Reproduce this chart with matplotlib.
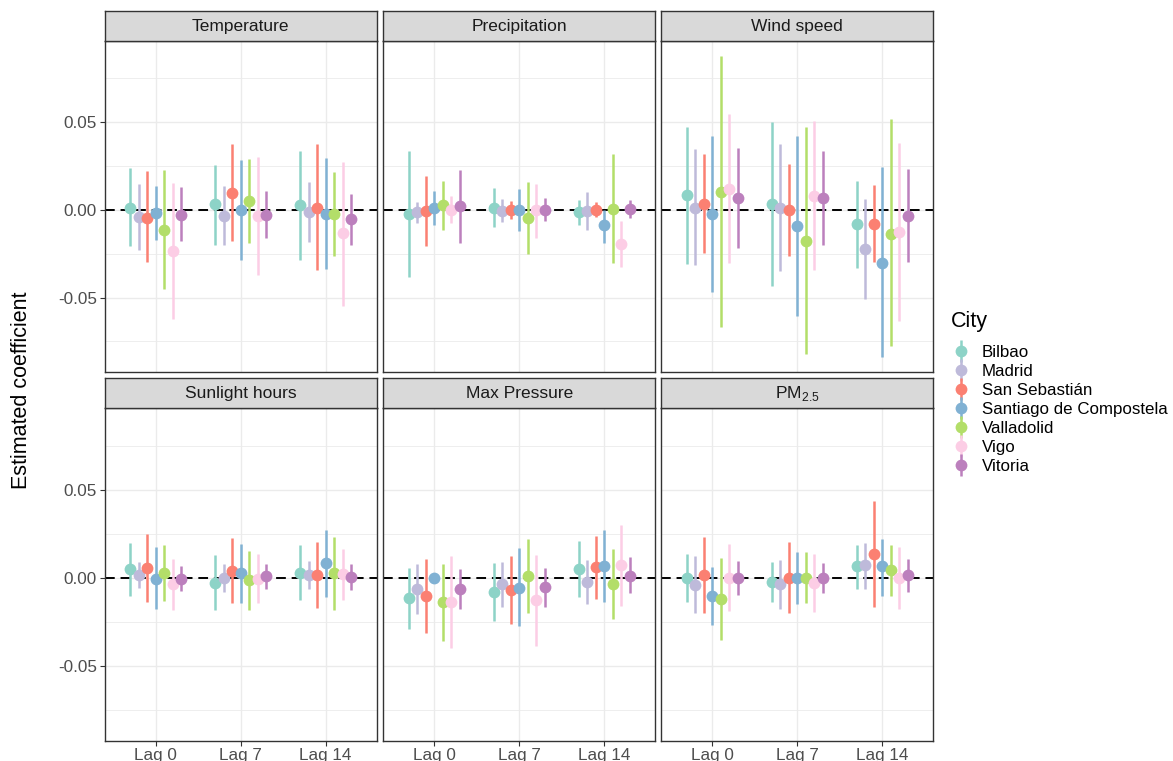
import numpy as np
import matplotlib
matplotlib.use("Agg")
import matplotlib.pyplot as plt
from matplotlib.lines import Line2D
from matplotlib.legend_handler import HandlerTuple

plt.rcParams["font.family"] = ["Liberation Sans", "DejaVu Sans"]
plt.rcParams["mathtext.fontset"] = "custom"
plt.rcParams["mathtext.rm"] = "Liberation Sans"
plt.rcParams["axes.unicode_minus"] = False

# categories
lags = ["Lag 0", "Lag 7", "Lag 14"]
cities = ["Bilbao", "Madrid", "San Sebastián", "Santiago de Compostela",
          "Valladolid", "Vigo", "Vitoria"]
city_colors = ["#8DD3C7", "#BEBADA", "#FB8072", "#80B1D3",
               "#B3DE69", "#FCCDE5", "#BC80BD"]
variables = ["Temperature", "Precipitation", "Wind speed",
             "Sunlight hours", "Max Pressure", "PM$_{2.5}$"]

# rows = cities, columns = lags (0, 7, 14)
temp_est = [[0.0013, 0.0032, 0.0025], [-0.0038, -0.0034, -0.0013], [-0.0044, 0.0098, 0.0013],
            [-0.0017, 0.0000, -0.0021], [-0.0114, 0.0051, -0.0021], [-0.0235, -0.0034, -0.0133],
            [-0.0027, -0.0027, -0.0053]]
temp_lo = [[-0.0208, -0.0199, -0.0288], [-0.0231, -0.0203, -0.0182], [-0.0297, -0.0178, -0.0345],
           [-0.0170, -0.0284, -0.0339], [-0.0451, -0.0189, -0.0265], [-0.0621, -0.0373, -0.0549],
           [-0.0180, -0.0161, -0.0199]]
temp_hi = [[0.0237, 0.0254, 0.0333], [0.0148, 0.0136, 0.0157], [0.0222, 0.0373, 0.0373],
           [0.0136, 0.0286, 0.0295], [0.0225, 0.0290, 0.0216], [0.0152, 0.0303, 0.0273],
           [0.0129, 0.0110, 0.0093]]

prec_est = [[-0.0025, 0.0011, -0.0011], [-0.0013, -0.0006, -0.0004], [-0.0009, 0.0000, 0.0000],
            [0.0009, 0.0000, -0.0089], [0.0027, -0.0047, 0.0006], [0.0000, 0.0000, -0.0195],
            [0.0023, 0.0000, 0.0006]]
prec_lo = [[-0.0383, -0.0100, -0.0089], [-0.0076, -0.0068, -0.0114], [-0.0208, -0.0051, -0.0038],
           [-0.0089, -0.0123, -0.0188], [-0.0114, -0.0252, -0.0303], [-0.0076, -0.0159, -0.0328],
           [-0.0188, -0.0066, -0.0044]]
prec_hi = [[0.0333, 0.0125, 0.0059], [0.0044, 0.0061, 0.0104], [0.0191, 0.0053, 0.0042],
           [0.0108, 0.0121, 0.0000], [0.0163, 0.0157, 0.0316], [0.0078, 0.0148, -0.0063],
           [0.0225, 0.0066, 0.0055]]

wind_est = [[0.0083, 0.0036, -0.0083], [0.0011, 0.0013, -0.0223], [0.0032, 0.0000, -0.0080],
            [-0.0023, -0.0091, -0.0303], [0.0104, -0.0178, -0.0136], [0.0117, 0.0078, -0.0125],
            [0.0066, 0.0066, -0.0034]]
wind_lo = [[-0.0309, -0.0436, -0.0331], [-0.0314, -0.0348, -0.0511], [-0.0246, -0.0265, -0.0299],
           [-0.0470, -0.0606, -0.0837], [-0.0669, -0.0824, -0.0777], [-0.0305, -0.0341, -0.0634],
           [-0.0218, -0.0199, -0.0297]]
wind_hi = [[0.0472, 0.0502, 0.0167], [0.0345, 0.0375, 0.0064], [0.0316, 0.0263, 0.0142],
           [0.0419, 0.0422, 0.0242], [0.0877, 0.0470, 0.0519], [0.0545, 0.0506, 0.0384],
           [0.0350, 0.0337, 0.0231]]

sun_est = [[0.0049, -0.0027, 0.0030], [0.0019, 0.0000, 0.0015], [0.0055, 0.0038, 0.0019],
           [-0.0004, 0.0027, 0.0083], [0.0027, -0.0013, 0.0027], [-0.0036, -0.0004, 0.0023],
           [-0.0006, 0.0011, 0.0004]]
sun_lo = [[-0.0102, -0.0184, -0.0127], [-0.0057, -0.0080, -0.0064], [-0.0138, -0.0144, -0.0169],
          [-0.0174, -0.0142, -0.0106], [-0.0133, -0.0180, -0.0184], [-0.0180, -0.0142, -0.0125],
          [-0.0076, -0.0063, -0.0070]]
sun_hi = [[0.0201, 0.0133, 0.0188], [0.0089, 0.0080, 0.0095], [0.0248, 0.0225, 0.0205],
          [0.0176, 0.0195, 0.0273], [0.0188, 0.0155, 0.0233], [0.0110, 0.0138, 0.0165],
          [0.0066, 0.0081, 0.0081]]

pres_est = [[-0.0116, -0.0078, 0.0049], [-0.0063, -0.0032, -0.0025], [-0.0102, -0.0070, 0.0063],
            [0.0000, -0.0055, 0.0068], [-0.0138, 0.0011, -0.0034], [-0.0134, -0.0125, 0.0074],
            [-0.0064, -0.0053, 0.0013]]
pres_lo = [[-0.0288, -0.0241, -0.0108], [-0.0203, -0.0165, -0.0148], [-0.0313, -0.0260, -0.0121],
           [-0.0015, -0.0275, -0.0136], [-0.0360, -0.0197, -0.0235], [-0.0396, -0.0383, -0.0159],
           [-0.0178, -0.0165, -0.0087]]
pres_hi = [[0.0057, 0.0087, 0.0208], [0.0081, 0.0091, 0.0100], [0.0108, 0.0125, 0.0237],
           [0.0015, 0.0172, 0.0271], [0.0080, 0.0222, 0.0167], [0.0125, 0.0131, 0.0301],
           [0.0051, 0.0057, 0.0117]]

pm_est = [[0.0000, -0.0025, 0.0068], [-0.0038, -0.0036, 0.0072], [0.0017, 0.0000, 0.0136],
          [-0.0104, 0.0000, 0.0068], [-0.0121, 0.0000, 0.0044], [0.0000, -0.0028, 0.0000],
          [0.0000, 0.0000, 0.0015]]
pm_lo = [[-0.0138, -0.0138, -0.0061], [-0.0197, -0.0178, -0.0061], [-0.0197, -0.0197, -0.0167],
         [-0.0269, -0.0146, -0.0100], [-0.0350, -0.0142, -0.0100], [-0.0189, -0.0193, -0.0176],
         [-0.0098, -0.0083, -0.0080]]
pm_hi = [[0.0134, 0.0089, 0.0189], [0.0123, 0.0104, 0.0199], [0.0231, 0.0203, 0.0439],
         [0.0061, 0.0148, 0.0220], [0.0112, 0.0148, 0.0186], [0.0191, 0.0138, 0.0178],
         [0.0095, 0.0083, 0.0106]]

panels = [(temp_est, temp_lo, temp_hi), (prec_est, prec_lo, prec_hi), (wind_est, wind_lo, wind_hi),
          (sun_est, sun_lo, sun_hi), (pres_est, pres_lo, pres_hi), (pm_est, pm_lo, pm_hi)]

W, H = 1173, 761
fig = plt.figure(figsize=(W / 100, H / 100), dpi=100)


def frac(x0, y0, x1, y1):
    # pixel box (top-left origin) -> figure fraction rect
    return [x0 / W, 1 - y1 / H, (x1 - x0) / W, (y1 - y0) / H]


col_x = [104.5, 383.3, 661.3]
panel_w = 272
rows_y = [(41, 371.7), (408.3, 740.7)]
strip_h = 30
grey20 = "#333333"
dodge = 0.1

for k, (var, (est, lo, hi)) in enumerate(zip(variables, panels)):
    r, c = divmod(k, 3)
    x0 = col_x[c]
    y0, y1 = rows_y[r]
    ax = fig.add_axes(frac(x0, y0, x0 + panel_w, y1))
    st = fig.add_axes(frac(x0, y0 - strip_h, x0 + panel_w, y0))

    est, lo, hi = np.array(est), np.array(lo), np.array(hi)
    xs = np.arange(len(lags))
    ax.axhline(0, color="black", lw=1.4, ls=(0, (5, 3)), zorder=1.5)
    for i, city in enumerate(cities):
        xp = xs + (i - 3) * dodge
        ax.vlines(xp, lo[i], hi[i], color=city_colors[i], lw=1.8, zorder=2)
        ax.plot(xp, est[i], "o", color=city_colors[i], ms=8.5, mec="none", zorder=3)

    ax.set_xlim(-0.6, 2.6)
    ax.set_ylim(-0.0923, 0.0963)
    ax.set_xticks(xs)
    ax.set_yticks([-0.05, 0.0, 0.05])
    ax.set_yticks([-0.075, -0.025, 0.025, 0.075], minor=True)
    ax.set_xticks([], minor=True)
    ax.grid(True, which="major", color="#EBEBEB", lw=1.0)
    ax.grid(True, which="minor", axis="y", color="#EBEBEB", lw=0.6)
    ax.set_axisbelow(True)
    for s in ax.spines.values():
        s.set_color(grey20)
        s.set_linewidth(1.0)
    ax.tick_params(which="major", length=3.5, width=0.8, color=grey20,
                   labelsize=12.3, labelcolor="#4D4D4D", pad=2)
    ax.tick_params(which="minor", length=0)
    if c == 0:
        ax.set_yticklabels(["-0.05", "0.00", "0.05"])
    else:
        ax.tick_params(axis="y", length=0, labelleft=False)
    if r == 1:
        ax.set_xticklabels(lags)
    else:
        ax.tick_params(axis="x", length=0, labelbottom=False)

    st.set_facecolor("#D9D9D9")
    st.set_xticks([])
    st.set_yticks([])
    for s in st.spines.values():
        s.set_color(grey20)
        s.set_linewidth(1.0)
    st.text(0.5, 0.48, var, ha="center", va="center", fontsize=12.5,
            color="#1A1A1A", transform=st.transAxes)

fig.text(22 / W, 1 - 390 / H, "Estimated coefficient", rotation=90,
         ha="center", va="center", fontsize=15.5, color="black")

# legend: title as plain text, keys as pointrange glyphs
fig.text(951 / W, 1 - 321 / H, "City", ha="left", va="center",
         fontsize=15.5, color="black")
handles = []
for col in city_colors:
    bar = Line2D([], [], color=col, marker="|", ms=16, mew=1.8, ls="none")
    dot = Line2D([], [], color=col, marker="o", ms=8.5, mec="none", ls="none")
    handles.append((bar, dot))
leg = fig.legend(handles, cities, handler_map={tuple: HandlerTuple(ndivide=1)},
                 loc="upper left", bbox_to_anchor=(953 / W, 1 - 344.5 / H),
                 frameon=False, fontsize=12.2, borderpad=0,
                 labelspacing=0.24, handlelength=1.0, handletextpad=0.7,
                 borderaxespad=0)

fig.savefig("out.png", dpi=100)
